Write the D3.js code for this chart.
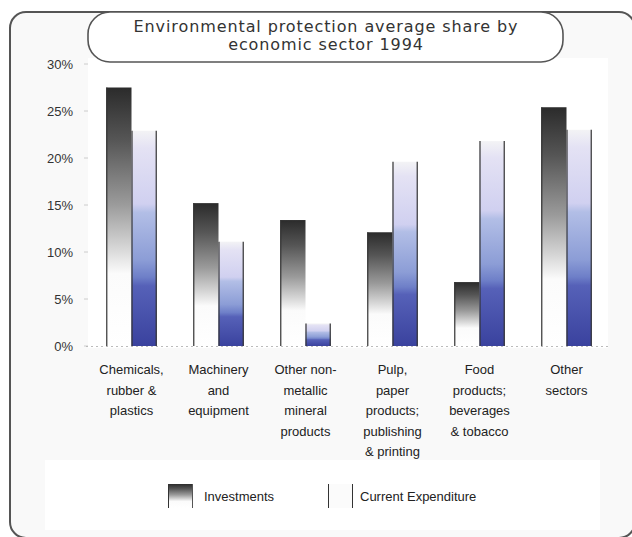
<!DOCTYPE html>
<html>
<head>
<meta charset="utf-8">
<script src="https://cdn.jsdelivr.net/npm/d3@7"></script>
<style>
  html, body { margin: 0; padding: 0; background: #ffffff; }
  svg { display: block; }
</style>
</head>
<body>
<script>
// Sector categories (multi-line labels)
const categories = [
  ["Chemicals,", "rubber &", "plastics"],
  ["Machinery", "and", "equipment"],
  ["Other non-", "metallic", "mineral", "products"],
  ["Pulp,", "paper", "products;", "publishing", "& printing"],
  ["Food", "products;", "beverages", "& tobacco"],
  ["Other", "sectors"]
];
// Shares in percent
const investments = [27.5, 15.2, 13.4, 12.1, 6.8, 25.4];
const currentExpenditure = [22.9, 11.1, 2.4, 19.6, 21.8, 23.0];
const seriesNames = ["Investments", "Current Expenditure"];
const yTicks = [0, 5, 10, 15, 20, 25, 30];
const titleLines = ["Environmental protection average share by", "economic sector 1994"];

const W = 632, H = 537;
const svg = d3.select("body").append("svg").attr("width", W).attr("height", H);

const defs = svg.append("defs");
const gInv = defs.append("linearGradient").attr("id", "gInv")
  .attr("x1", 0).attr("y1", 0).attr("x2", 0).attr("y2", 1);
[[0, "#2b2b2b"], [0.2, "#555555"], [0.45, "#9a9a9a"], [0.62, "#d6d6d6"], [0.72, "#fbfbfb"], [1, "#ffffff"]]
  .forEach(([o, c]) => gInv.append("stop").attr("offset", o).attr("stop-color", c));
const gExp = defs.append("linearGradient").attr("id", "gExp")
  .attr("x1", 0).attr("y1", 0).attr("x2", 0).attr("y2", 1);
[[0, "#f3f3f5"], [0.08, "#e4e2f4"], [0.34, "#d0d0f0"], [0.38, "#b2bee6"], [0.6, "#8c9dd6"], [0.68, "#6e7fc8"], [0.72, "#5661b8"], [1, "#3a429e"]]
  .forEach(([o, c]) => gExp.append("stop").attr("offset", o).attr("stop-color", c));

// Outer frame
svg.append("rect").attr("x", 10).attr("y", 12).attr("width", 625).attr("height", 526)
  .attr("rx", 16).attr("fill", "#f9f9f9").attr("stroke", "#555").attr("stroke-width", 2);

// Plot and legend backgrounds
svg.append("rect").attr("x", 88).attr("y", 58).attr("width", 520).attr("height", 290).attr("fill", "#ffffff");
svg.append("rect").attr("x", 45).attr("y", 460).attr("width", 555).attr("height", 70).attr("fill", "#ffffff");

const x = d3.scaleBand().domain(d3.range(categories.length)).range([88, 610]).paddingInner(0.42).paddingOuter(0.21);
const y = d3.scaleLinear().domain([0, 30]).range([346, 64]);
const bw = x.bandwidth() / 2;

// Y axis labels and ticks
const yAxis = svg.append("g");
yAxis.selectAll("text").data(yTicks).join("text")
  .attr("x", 73).attr("y", d => y(d)).attr("dy", "0.35em")
  .attr("text-anchor", "end").attr("font-family", "Liberation Sans, Arial, sans-serif")
  .attr("font-size", 13).attr("fill", "#333").text(d => d + "%");
yAxis.selectAll("line").data(yTicks).join("line")
  .attr("x1", 84).attr("x2", 88).attr("y1", d => y(d)).attr("y2", d => y(d))
  .attr("stroke", "#ccc").attr("stroke-width", 1);
svg.append("line").attr("x1", 86).attr("x2", 610).attr("y1", y(0) + 0.5).attr("y2", y(0) + 0.5)
  .attr("stroke", "#bbb").attr("stroke-dasharray", "2,3");

// Bars
const groups = svg.append("g").selectAll("g").data(categories).join("g");
groups.append("rect")
  .attr("x", (d, i) => x(i)).attr("width", bw)
  .attr("y", (d, i) => y(investments[i])).attr("height", (d, i) => y(0) - y(investments[i]))
  .attr("fill", "url(#gInv)");
groups.append("line")
  .attr("x1", (d, i) => x(i) + 0.5).attr("x2", (d, i) => x(i) + 0.5)
  .attr("y1", (d, i) => y(investments[i])).attr("y2", y(0))
  .attr("stroke", "#333").attr("stroke-width", 1.2);
groups.append("rect")
  .attr("x", (d, i) => x(i) + bw).attr("width", bw)
  .attr("y", (d, i) => y(currentExpenditure[i])).attr("height", (d, i) => y(0) - y(currentExpenditure[i]))
  .attr("fill", "url(#gExp)");
groups.each(function (d, i) {
  const g = d3.select(this);
  [x(i) + bw + 0.5, x(i) + 2 * bw - 0.5].forEach(xx =>
    g.append("line").attr("x1", xx).attr("x2", xx)
      .attr("y1", y(currentExpenditure[i])).attr("y2", y(0))
      .attr("stroke", "#333").attr("stroke-width", 1.2));
});

// Category labels
groups.append("text")
  .attr("text-anchor", "middle").attr("font-family", "Liberation Sans, Arial, sans-serif")
  .attr("font-size", 13).attr("fill", "#222")
  .selectAll("tspan").data((d, i) => d.map(t => ({ t, i }))).join("tspan")
  .attr("x", d => x(d.i) + x.bandwidth() / 2)
  .attr("y", (d, k) => 374 + k * 20.5)
  .text(d => d.t);

// Title box
svg.append("rect").attr("x", 88).attr("y", 12).attr("width", 475).attr("height", 50)
  .attr("rx", 22).attr("fill", "#ffffff").attr("stroke", "#555").attr("stroke-width", 1.6);
svg.append("g").selectAll("text").data(titleLines).join("text")
  .attr("text-anchor", "middle").attr("font-family", "DejaVu Sans, sans-serif")
  .attr("font-size", 16).attr("letter-spacing", 0.9).attr("fill", "#333")
  .attr("x", 326).attr("y", (d, k) => 32 + k * 18).text(d => d);

// Legend
const lg = svg.append("g");
lg.append("rect").attr("x", 168).attr("y", 484).attr("width", 25).attr("height", 24).attr("fill", "url(#gInv)");
lg.append("line").attr("x1", 168.5).attr("x2", 168.5).attr("y1", 484).attr("y2", 508).attr("stroke", "#333");
lg.append("line").attr("x1", 192.5).attr("x2", 192.5).attr("y1", 484).attr("y2", 508).attr("stroke", "#555");
lg.append("rect").attr("x", 328).attr("y", 484).attr("width", 25).attr("height", 24).attr("fill", "#fbfbfb");
lg.append("line").attr("x1", 328.5).attr("x2", 328.5).attr("y1", 484).attr("y2", 508).attr("stroke", "#333");
lg.append("line").attr("x1", 352.5).attr("x2", 352.5).attr("y1", 484).attr("y2", 508).attr("stroke", "#333");
lg.selectAll("text").data(seriesNames).join("text")
  .attr("x", (d, i) => i === 0 ? 204 : 360).attr("y", 496).attr("dy", "0.35em")
  .attr("font-family", "Liberation Sans, Arial, sans-serif").attr("font-size", 13).attr("fill", "#222")
  .text(d => d);
</script>
</body>
</html>
